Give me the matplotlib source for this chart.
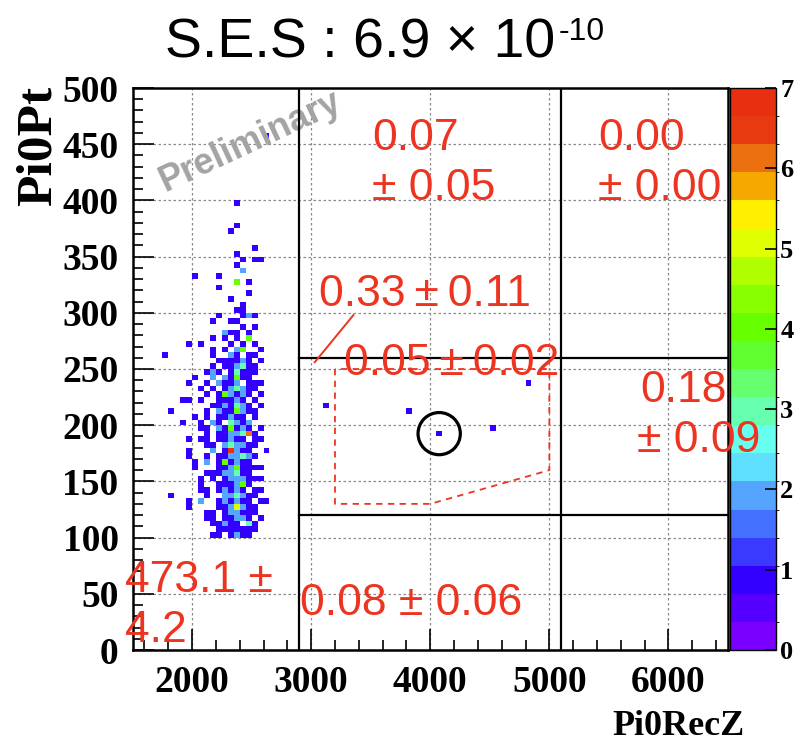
import numpy as np
import matplotlib
matplotlib.use("Agg")
import matplotlib.pyplot as plt
from matplotlib.colors import ListedColormap, BoundaryNorm
from matplotlib.patches import Ellipse
from matplotlib.ticker import MultipleLocator

# ---------------- histogram binning ----------------
z_range = (1500, 6500)      # Pi0RecZ [mm]
z_bin = 50
pt_range = (0, 500)         # Pi0Pt [MeV/c]
pt_bin = 5

# ---------------- control-sample cluster: one Pt row per line ----------------
row_pt = [102.5, 107.5, 112.5, 117.5, 122.5, 127.5, 132.5, 137.5, 142.5, 147.5,
          152.5, 157.5, 162.5, 167.5, 172.5, 177.5, 182.5, 187.5, 192.5, 197.5,
          202.5, 207.5, 212.5, 217.5, 222.5, 227.5, 232.5, 237.5, 242.5, 247.5,
          252.5, 257.5, 262.5, 267.5, 272.5, 277.5, 282.5, 287.5, 292.5, 297.5,
          302.5, 307.5, 312.5, 317.5, 322.5, 327.5, 332.5, 337.5, 342.5, 347.5,
          352.5, 357.5, 372.5, 377.5, 397.5]
row_z = [
    [2175, 2225, 2325, 2375, 2425, 2475],
    [2225, 2275, 2325, 2375, 2425, 2475, 2525],
    [2175, 2225, 2275, 2325, 2375, 2475, 2525],
    [2125, 2175, 2275, 2325, 2375, 2425, 2475, 2575],
    [2125, 2175, 2275, 2325, 2375, 2425, 2475, 2525],
    [1975, 2225, 2275, 2325, 2375, 2425, 2475, 2525],
    [1975, 2075, 2225, 2275, 2325, 2375, 2425, 2475, 2575, 2625],
    [1825, 2125, 2275, 2325, 2375, 2425, 2475, 2525],
    [2075, 2125, 2225, 2275, 2325, 2375, 2425, 2525, 2575],
    [2075, 2225, 2275, 2325, 2375, 2425, 2475],
    [2075, 2175, 2275, 2325, 2375, 2425, 2475, 2525, 2575],
    [2125, 2175, 2225, 2275, 2325, 2375, 2425, 2475],
    [2025, 2225, 2275, 2325, 2375, 2425, 2475, 2525, 2575],
    [2025, 2125, 2225, 2275, 2325, 2375, 2425, 2475],
    [1975, 2125, 2225, 2275, 2325, 2375, 2425, 2475, 2525],
    [1975, 2175, 2275, 2325, 2375, 2425, 2475, 2625],
    [2125, 2175, 2275, 2325, 2375, 2425, 2475, 2525],
    [1975, 2075, 2125, 2225, 2275, 2325, 2375, 2425, 2525, 2575],
    [2125, 2225, 2275, 2325, 2375, 2425, 2475, 2525],
    [2075, 2125, 2225, 2275, 2325, 2375, 2425, 2475, 2575],
    [1925, 2075, 2175, 2225, 2325, 2375, 2425, 2475],
    [2025, 2125, 2225, 2275, 2325, 2375, 2425, 2525],
    [1825, 2125, 2225, 2275, 2325, 2375, 2425, 2475, 2525],
    [2175, 2225, 2275, 2325, 2375, 2425, 2475, 2575],
    [1925, 1975, 2075, 2225, 2275, 2325, 2375, 2425, 2525],
    [2125, 2225, 2275, 2325, 2375, 2425, 2475, 2575],
    [2075, 2175, 2275, 2325, 2375, 2425, 2475, 2525],
    [1975, 2125, 2225, 2275, 2325, 2375, 2475, 2525, 2575],
    [2025, 2175, 2275, 2325, 2375, 2425, 2475],
    [2125, 2175, 2225, 2325, 2375, 2425, 2475, 2525],
    [2175, 2275, 2325, 2375, 2425, 2475, 2525],
    [2225, 2275, 2325, 2375, 2425, 2475, 2575],
    [1775, 2175, 2325, 2375, 2475, 2525],
    [2175, 2275, 2375, 2425, 2575],
    [1975, 2075, 2325, 2425, 2525],
    [2175, 2275, 2375, 2475],
    [2275, 2325, 2375, 2475],
    [2425, 2525],
    [2175, 2325, 2375],
    [2225, 2425, 2475, 2525],
    [2375, 2425],
    [2425],
    [2325],
    [2475],
    [2225],
    [2375, 2475],
    [2025, 2225],
    [2425],
    [2375],
    [2425, 2525, 2575],
    [2375],
    [2525],
    [2325],
    [2375],
    [2375],
]
row_n = [
    [1, 1, 1, 2, 1, 1],
    [1, 1, 1, 1, 1, 1, 1],
    [1, 1, 2, 1, 1, 3, 1],
    [1, 1, 1, 1, 2, 2, 1, 1],
    [1, 1, 1, 2, 2, 1, 1, 1],
    [1, 1, 1, 2, 5, 2, 1, 1],
    [1, 2, 1, 2, 1, 2, 1, 1, 1, 1],
    [1, 1, 2, 2, 3, 2, 1, 1],
    [1, 1, 1, 2, 1, 2, 1, 1, 1],
    [1, 1, 1, 1, 2, 4, 1],
    [1, 1, 1, 2, 2, 2, 1, 1, 1],
    [1, 1, 1, 2, 2, 3, 1, 1],
    [1, 1, 1, 2, 4, 1, 1, 1, 1],
    [1, 2, 1, 4, 1, 2, 1, 1],
    [1, 1, 1, 1, 2, 2, 3, 2, 1],
    [1, 2, 1, 7, 2, 1, 1, 1],
    [1, 1, 2, 3, 2, 2, 1, 1],
    [1, 1, 1, 1, 1, 2, 1, 1, 1, 1],
    [1, 1, 1, 2, 2, 3, 6, 1],
    [1, 1, 2, 1, 4, 1, 2, 1, 1],
    [1, 1, 2, 1, 3, 2, 1, 2],
    [1, 1, 1, 1, 2, 1, 1, 1],
    [1, 1, 2, 1, 1, 4, 2, 1, 1],
    [1, 1, 2, 1, 3, 2, 1, 1],
    [1, 1, 1, 1, 1, 1, 2, 1, 1],
    [1, 1, 4, 2, 1, 2, 1, 1],
    [1, 1, 1, 2, 3, 2, 1, 1],
    [1, 1, 2, 1, 1, 2, 1, 1, 1],
    [1, 2, 2, 1, 4, 1, 1],
    [1, 2, 1, 1, 3, 1, 1, 1],
    [1, 1, 1, 2, 3, 1, 1],
    [1, 1, 1, 1, 2, 1, 1],
    [1, 1, 2, 1, 1, 1],
    [1, 1, 2, 4, 1],
    [1, 1, 1, 1, 1],
    [1, 1, 1, 4],
    [2, 1, 1, 1],
    [1, 1],
    [1, 1, 1],
    [1, 1, 2, 1],
    [1, 1],
    [1],
    [1],
    [1],
    [1],
    [4, 1],
    [1, 1],
    [2],
    [1],
    [1, 1, 1],
    [1],
    [1],
    [1],
    [1],
    [1],
]

# isolated entries outside the cluster
extra_z = [2625, 3125, 3825, 4075, 4525, 4825]
extra_pt = [457.5, 217.5, 212.5, 192.5, 197.5, 237.5]
extra_n = [1, 1, 1, 1, 1, 1]

# highlighted event
circled_z, circled_pt = 4075, 192.5

# region boundaries
z_cuts = [2900, 5100]
pt_cuts = [120, 260]

# signal box
box_z = [3200, 3200, 4000, 5000, 5000, 3200]
box_pt = [250, 130, 130, 160, 250, 250]

title = "S.E.S : 6.9 \u00d7 10"
title_exp = "-10"

# ---------------- assemble the entries ----------------
ent_z = [z for zs in row_z for z in zs] + extra_z
ent_pt = [p for p, zs in zip(row_pt, row_z) for _ in zs] + extra_pt
ent_n = [n for ns in row_n for n in ns] + extra_n

z_edges = np.arange(z_range[0], z_range[1] + z_bin, z_bin)
pt_edges = np.arange(pt_range[0], pt_range[1] + pt_bin, pt_bin)

# ROOT-like 20-level palette from 0 to 7
band_colors = ['#7A00FF', '#5500FF', '#3300FF', '#3A3AFF', '#4470FF',
               '#55A5FF', '#5FE0FF', '#66FFF0', '#66FFB0', '#66FF70',
               '#60FF30', '#66FF00', '#88FF00', '#B0FF00', '#E0FF00',
               '#FFF000', '#F5A800', '#EC7010', '#E83A10', '#E83010']
cmap = ListedColormap(band_colors).with_extremes(over='#E83010')
levels = np.linspace(0, 7, 21)
norm = BoundaryNorm(levels, ncolors=len(band_colors))

W, H = 807, 749
fig = plt.figure(figsize=(W / 100, H / 100), dpi=100)
ax_l, ax_r, ax_t, ax_b = 132.5, 728, 88, 650
ax = fig.add_axes([ax_l / W, 1 - ax_b / H, (ax_r - ax_l) / W, (ax_b - ax_t) / H])
cax = fig.add_axes([730 / W, 1 - ax_b / H, 46 / W, (ax_b - ax_t) / H])
ax.set_zorder(3)
cax.set_zorder(1)

h = ax.hist2d(ent_z, ent_pt, bins=[z_edges, pt_edges], weights=ent_n,
              cmap=cmap, norm=norm, cmin=0.5)

ax.set_xlim(*z_range)
ax.set_ylim(*pt_range)

serif = 'Liberation Serif'
sans = ['Liberation Sans', 'DejaVu Sans']
red = '#EC3420'

# axes styling
ax.set_axisbelow(True)
ax.grid(True, which='major', color='#8a8a8a', linestyle=(0, (2, 2)), linewidth=0.9)
ax.xaxis.set_major_locator(MultipleLocator(1000))
ax.xaxis.set_minor_locator(MultipleLocator(200))
ax.yaxis.set_major_locator(MultipleLocator(50))
ax.yaxis.set_minor_locator(MultipleLocator(10))
ax.tick_params(which='both', direction='in', top=False, right=False, width=1.2)
ax.tick_params(which='major', length=15)
ax.tick_params(which='minor', length=7)
ax.tick_params(axis='x', which='major', pad=11)
ax.tick_params(axis='y', which='major', pad=10)
for lab in ax.get_xticklabels() + ax.get_yticklabels():
    lab.set_fontfamily(serif)
    lab.set_fontweight('bold')
    lab.set_fontsize(27)
for s in ax.spines.values():
    s.set_linewidth(1.8)

# region boundaries
for zc in z_cuts:
    ax.axvline(zc, color='black', lw=1.6, zorder=3)
for pc in pt_cuts:
    ax.plot([z_cuts[0], z_range[1]], [pc, pc], color='black', lw=1.6, zorder=3)

# signal box
ax.plot(box_z, box_pt, color=red, lw=1.3, ls=(0, (3.5, 3)), zorder=3)

# highlighted event
ax.add_patch(Ellipse((circled_z, circled_pt), width=355, height=37.5,
                     fill=False, ec='black', lw=2.3, zorder=4))

# watermark
ax.text(2490, 452, "Preliminary", rotation=25, color='#a3a3a3', fontsize=26,
        fontweight='bold', family=sans, ha='center', va='center', zorder=2)

# region estimates
pm = "\u2009\u00b1\u2009"
tk = dict(color=red, fontsize=32, family=sans, va='baseline', ha='left',
          zorder=5, clip_on=False)
ax.text(3510, 445, "0.07", **tk)
ax.text(3510, 400, "\u00b1 0.05", **tk)
ax.text(5410, 445, "0.00", **tk)
ax.text(5410, 400, "\u00b1 0.00", **tk)
ax.text(3070, 306, "0.33" + pm + "0.11", **tk)
ax.text(3280, 245, "0.05" + pm + "0.02", **tk)
ax.text(5760, 221, "0.18", **tk)
ax.text(5735, 176, "\u00b1 0.09", **tk)
ax.text(1440, 52, "473.1 \u00b1", **tk)
ax.text(1440, 7, "4.2", **tk)
ax.text(2905, 31, "0.08 \u00b1 0.06", **tk)
ax.plot([3030, 3355], [256, 298], color=red, lw=1.4, zorder=5)

# colorbar
cb = fig.colorbar(h[3], cax=cax, ticks=range(8))
cb.outline.set_linewidth(1.0)
cax.yaxis.set_ticks_position('right')
cax.tick_params(direction='in', length=8, width=1.2, pad=3)
for lab in cax.get_yticklabels():
    lab.set_fontfamily(serif)
    lab.set_fontweight('bold')
    lab.set_fontsize(19)

# axis titles
fig.text(62 / W, 1 - 86 / H, "Pi0Pt", rotation=90, ha='right', va='top',
         family=serif, fontweight='bold', fontsize=37)
fig.text(745 / W, 1 - 735 / H, "Pi0RecZ", ha='right', va='baseline',
         family=serif, fontweight='bold', fontsize=26)

# title with exponent
t = fig.text(165 / W, 1 - 57 / H, title, ha='left', va='baseline',
             family=sans, fontsize=40)
fig.canvas.draw()
bb = t.get_window_extent()
fig.text(bb.x1 / W + 3 / W, 1 - 40 / H, title_exp, ha='left', va='baseline',
         family=sans, fontsize=23)

fig.savefig("out.png", dpi=100)
